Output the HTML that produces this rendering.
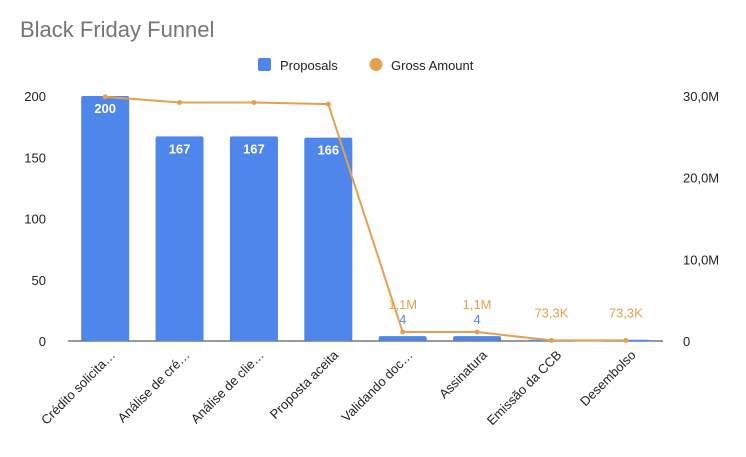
<!DOCTYPE html>
<html><head><meta charset="utf-8"><style>
body{margin:0;background:#fff;font-family:"Liberation Sans",sans-serif}
svg text{font-family:"Liberation Sans",sans-serif}
</style></head><body>
<svg id="c" width="746" height="452">
<text x="20" y="37" font-size="22" fill="#757575">Black Friday Funnel</text>
<g>
<rect x="258" y="58" width="13" height="13" rx="2" fill="#4f86ec"/>
<text x="280" y="70" font-size="13" fill="#222">Proposals</text>
<circle cx="376" cy="64.5" r="6.5" fill="#e4a04e"/>
<text x="391" y="70" font-size="13" fill="#222">Gross Amount</text>
</g>
<g id="g"></g>
</svg>
<script>
const categories=["Crédito solicita…","Análise de cré…","Análise de clie…","Proposta aceita","Validando doc…","Assinatura","Emissão da CCB","Desembolso"];
const proposals=[200,167,167,166,4,4,1,1];
const gross=[29.9e6,29.2e6,29.2e6,29.0e6,1.1e6,1.1e6,73.3e3,73.3e3];
const grossLabels=["","","","","1,1M","1,1M","73,3K","73,3K"];
const leftTicks=[0,50,100,150,200];
const rightTicks=[0,10e6,20e6,30e6];
const rightTickLabels=["0","10,0M","20,0M","30,0M"];
const ns="http://www.w3.org/2000/svg",g=document.getElementById('g');
const x0=68,x1=663,yb=341,yt=96;
const step=(x1-x0)/categories.length;
const xc=i=>x0+step*(i+0.5);
const yL=v=>yb-(v/200)*(yb-yt);
const yR=v=>yb-(v/30e6)*(yb-yt);
function el(t,a,txt){const e=document.createElementNS(ns,t);for(const k in a)e.setAttribute(k,a[k]);if(txt!=null)e.textContent=txt;g.appendChild(e);return e;}
leftTicks.forEach(v=>{if(v===0){const e=el('line',{x1:x0,x2:x1,y1:yL(v),y2:yL(v),stroke:'#333','stroke-width':1});
}
const t=el('text',{x:46,y:yL(v)+5,'text-anchor':'end','font-size':13,fill:'#222'},v);
});
rightTicks.forEach((v,i)=>{const t=el('text',{x:683,y:yR(v)+5,'font-size':13,fill:'#222'},rightTickLabels[i]);
});
categories.forEach((c,i)=>{const h=yb-yL(proposals[i]);
const r=el('rect',{x:xc(i)-24,y:yL(proposals[i]),width:48,height:Math.max(h,2),rx:2,fill:'#4f86ec'});

const inside=h>30;
const t=el('text',{x:xc(i),y:inside?yL(proposals[i])+17:yL(proposals[i])-12,'text-anchor':'middle','font-size':13,'font-weight':inside?'bold':'normal',fill:inside?'#fff':'#4f86ec'},proposals[i]>2?proposals[i]:'');

const lt=el('text',{x:xc(i)+8,y:yb+16,'text-anchor':'end','font-size':13,fill:'#222',transform:`rotate(-45 ${xc(i)+8} ${yb+12})`},c);
});
const pts=gross.map((v,i)=>xc(i)+','+yR(v)).join(' ');
const pl=el('polyline',{points:pts,fill:'none',stroke:'#e4a04e','stroke-width':2});

gross.forEach((v,i)=>{const p=el('circle',{cx:xc(i),cy:yR(v),r:2.5,fill:'#e4a04e'});

if(grossLabels[i]){const t=el('text',{x:xc(i),y:yR(v)-23,'text-anchor':'middle','font-size':13,fill:'#e4a04e'},grossLabels[i]);
}});
</script>
</body></html>
